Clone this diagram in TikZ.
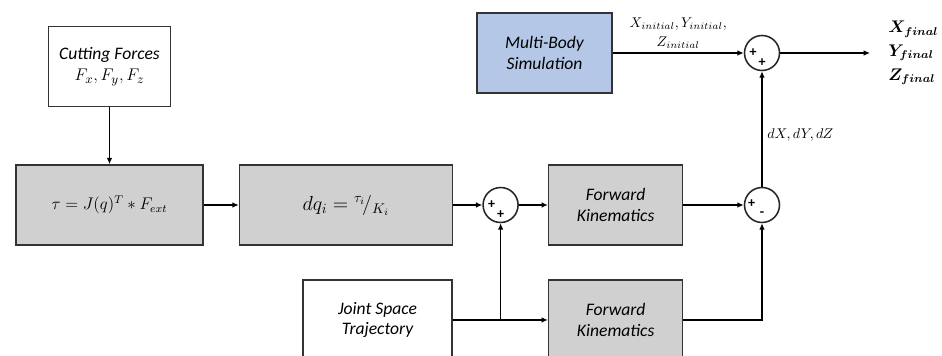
\documentclass[tikz,border=0pt]{standalone}
\usepackage{amsmath,amssymb}
\usepackage{fontspec}
\setmainfont{Carlito}
\usetikzlibrary{arrows.meta,positioning,calc}
\definecolor{simblue}{RGB}{180,199,231}
\definecolor{blockgray}{RGB}{208,208,208}

\begin{document}
\begin{tikzpicture}[
  font=\fontsize{12.5}{14.5}\selectfont\itshape,
  >={Latex[length=4.5pt,width=4pt]},
  box/.style={
    draw=black!80,
    line width=1.1pt,
    align=center,
    inner sep=3pt,
    minimum height=2cm
  },
  block/.style={box, fill=blockgray},
  sum/.style={circle, draw=black!85, line width=1.1pt, minimum size=0.875cm, inner sep=0pt},
  sign/.style={font=\normalsize\bfseries\upshape, inner sep=0pt},
  arrow/.style={->, line width=0.9pt}
]
  \useasboundingbox (0,0) rectangle (23.55,8.9);
  \clip (0,0) rectangle (23.55,8.9);
  % main row
  \node[block, minimum width=4.675cm] (tau) at (2.7375,3.775) {\large $\tau = J(q)^T * F_{ext}$};
  \node[box, minimum width=3.05cm, above=1.425cm of tau] (forces) {Cutting Forces\\[1pt] $F_x, F_y, F_z$};
  \node[block, minimum width=5.325cm, right=0.875cm of tau] (dq) {\Large $dq_i = {}^{\tau_i}\!/_{K_i}$};
  \node[sum, right=0.725cm of dq] (sum1) {};
  \node[block, minimum width=3.35cm, right=0.725cm of sum1] (fk1) {Forward\\ Kinematics};
  \node[sum] (sum2) at (19.05,3.775) {};
  % lower row
  \node[box, minimum width=3.725cm] (joint) at (9.4375,0.9) {Joint Space\\ Trajectory};
  \node[block, minimum width=3.35cm] (fk2) at (fk1 |- joint) {Forward\\ Kinematics};
  % top row
  \node[sum] (sum3) at (19.05,7.575) {};
  \node[box, fill=simblue, minimum width=3.375cm] (mbs) at (13.6125,7.575) {Multi-Body\\ Simulation};
  \coordinate (out) at (21.75,7.575);
  \node[right=0.45cm of out, align=left, inner sep=0pt, font=\large] (final)
    {$\boldsymbol{X_{final}}$\\[3pt] $\boldsymbol{Y_{final}}$\\[3pt] $\boldsymbol{Z_{final}}$};
  % signs
  \node[sign] at ($(sum1)+(-0.225,0.02)$) {+};
  \node[sign] at ($(sum1)+(0,-0.24)$) {+};
  \node[sign] at ($(sum2)+(-0.26,0.04)$) {+};
  \node[sign] at ($(sum2)+(0,-0.22)$) {-};
  \node[sign] at ($(sum3)+(-0.225,0.02)$) {+};
  \node[sign] at ($(sum3)+(0,-0.24)$) {+};
  % connectors
  \draw[arrow] (forces) -- (tau);
  \draw[arrow] (tau) -- (dq);
  \draw[arrow] (dq) -- (sum1);
  \draw[arrow] (sum1) -- (fk1);
  \draw[arrow] (fk1) -- (sum2);
  \coordinate (branch) at (sum1 |- joint.east);
  \draw[arrow] (joint.east) -- (fk2.west);
  \draw[arrow] (branch) -- (sum1.south);
  \draw[arrow] (fk2.east) -| (sum2.south);
  \draw[arrow] (sum2.north) -- node[pos=0.45, right, font=\normalsize]{$dX, dY, dZ$} (sum3.south);
  \draw[arrow] (mbs.east) -- node[above, align=center, font=\normalsize, inner sep=3pt]
    {$X_{initial}, Y_{initial},$\\[1pt] $Z_{initial}$} (sum3.west);
  \draw[arrow] (sum3.east) -- (out);
\end{tikzpicture}
\end{document}
